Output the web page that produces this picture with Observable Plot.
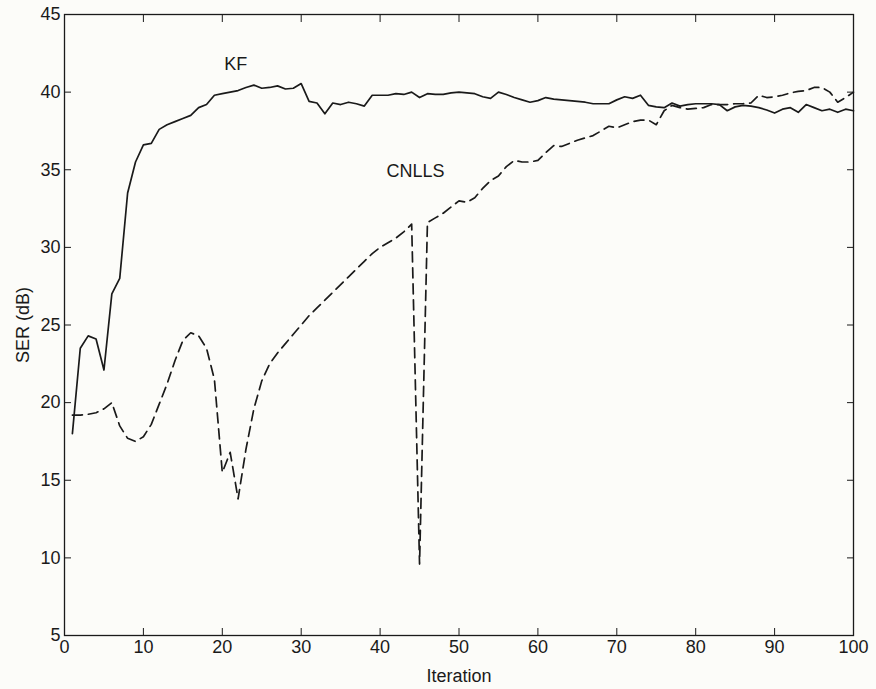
<!DOCTYPE html>
<html>
<head>
<meta charset="utf-8">
<script src="https://cdn.jsdelivr.net/npm/d3@7"></script>
<script src="https://cdn.jsdelivr.net/npm/@observablehq/plot@0.6"></script>
<style>
  html, body { margin: 0; padding: 0; background: #fcfcf9; }
  #chart svg { display: block; }
</style>
</head>
<body>
<div id="chart"></div>
<script>
const iterations = d3.range(1, 101);
const kfSER = [
  18.0, 23.5, 24.3, 24.1, 22.1, 27.0, 28.0, 33.5, 35.5, 36.6,
  36.7, 37.6, 37.9, 38.1, 38.3, 38.5, 39.0, 39.2, 39.8, 39.9,
  40.0, 40.1, 40.3, 40.45, 40.25, 40.3, 40.4, 40.2, 40.25, 40.55,
  39.4, 39.3, 38.6, 39.3, 39.2, 39.35, 39.25, 39.1, 39.8, 39.8,
  39.8, 39.9, 39.85, 40.0, 39.65, 39.9, 39.85, 39.85, 39.95, 40.0,
  39.95, 39.9, 39.7, 39.6, 40.0, 39.85, 39.65, 39.5, 39.35, 39.45,
  39.65, 39.55, 39.5, 39.45, 39.4, 39.35, 39.25, 39.25, 39.25, 39.5,
  39.7, 39.6, 39.8, 39.15, 39.05, 39.0, 39.3, 39.1, 39.2, 39.25,
  39.25, 39.25, 39.2, 38.8, 39.05, 39.15, 39.1, 39.0, 38.85, 38.65,
  38.9, 39.0, 38.7, 39.2, 39.0, 38.8, 38.9, 38.7, 38.9, 38.8
];
const cnllsSER = [
  19.2, 19.2, 19.25, 19.35, 19.6, 20.0, 18.5, 17.7, 17.5, 17.8,
  18.6, 19.9, 21.2, 22.7, 24.0, 24.5, 24.3, 23.5, 21.5, 15.5,
  16.8, 13.8, 17.0, 19.6, 21.4, 22.5, 23.2, 23.8, 24.4, 25.0,
  25.6, 26.1, 26.6, 27.1, 27.6, 28.1, 28.6, 29.1, 29.6, 30.0,
  30.3, 30.6, 31.0, 31.5, 9.6, 31.6, 31.9, 32.2, 32.6, 33.0,
  32.9, 33.2, 33.8, 34.3, 34.6, 35.2, 35.6, 35.5, 35.5, 35.6,
  36.1, 36.55, 36.5, 36.7, 36.9, 37.05, 37.2, 37.5, 37.8, 37.7,
  37.9, 38.1, 38.2, 38.2, 37.9, 38.8, 39.15, 39.0, 38.9, 38.95,
  39.0, 39.2, 39.2, 39.2, 39.25, 39.25, 39.3, 39.8, 39.65, 39.7,
  39.8, 39.95, 40.05, 40.1, 40.3, 40.3, 40.0, 39.35, 39.65, 40.0
];
const xTicks = [0, 10, 20, 30, 40, 50, 60, 70, 80, 90, 100];
const yTicks = [5, 10, 15, 20, 25, 30, 35, 40, 45];
const labels = [
  {text: "KF", x: 21.7, y: 41.8},
  {text: "CNLLS", x: 44.5, y: 34.9}
];

const kf = iterations.map((it, i) => ({it, v: kfSER[i]}));
const cn = iterations.map((it, i) => ({it, v: cnllsSER[i]}));

const ink = "#1a1a1a";
const narrow = "'Liberation Sans Narrow', 'Liberation Sans', Arial, sans-serif";

const chart = Plot.plot({
  width: 876,
  height: 689,
  marginLeft: 64,
  marginRight: 23,
  marginTop: 14,
  marginBottom: 54,
  style: {background: "#fcfcf9", fontFamily: "'Liberation Sans', Arial, sans-serif", fontSize: "17px", color: ink},
  x: {domain: [0, 100]},
  y: {domain: [5, 45]},
  marks: [
    Plot.frame({stroke: ink, strokeWidth: 1.3}),
    Plot.axisX({ticks: xTicks, tickSize: -7, tickPadding: 12, fontSize: 18, fontFamily: narrow, label: "Iteration", labelAnchor: "center", labelArrow: "none", labelOffset: 46, stroke: ink, fill: ink}),
    Plot.axisX({ticks: xTicks, anchor: "top", tickSize: -7, tickFormat: () => "", label: null, stroke: ink}),
    Plot.axisY({ticks: yTicks, tickSize: -7, tickPadding: 11, fontSize: 18, label: "SER (dB)", labelAnchor: "center", labelArrow: "none", labelOffset: 48, stroke: ink, fill: ink}),
    Plot.axisY({ticks: yTicks, anchor: "right", tickSize: -7, tickFormat: () => "", label: null, stroke: ink}),
    Plot.line(kf, {x: "it", y: "v", stroke: ink, strokeWidth: 1.7}),
    Plot.line(cn, {x: "it", y: "v", stroke: ink, strokeWidth: 1.7, strokeDasharray: "10,6"}),
    Plot.text(labels, {x: "x", y: "y", text: "text", fontSize: 18, fill: ink})
  ]
});
document.getElementById("chart").appendChild(chart);
</script>
</body>
</html>
